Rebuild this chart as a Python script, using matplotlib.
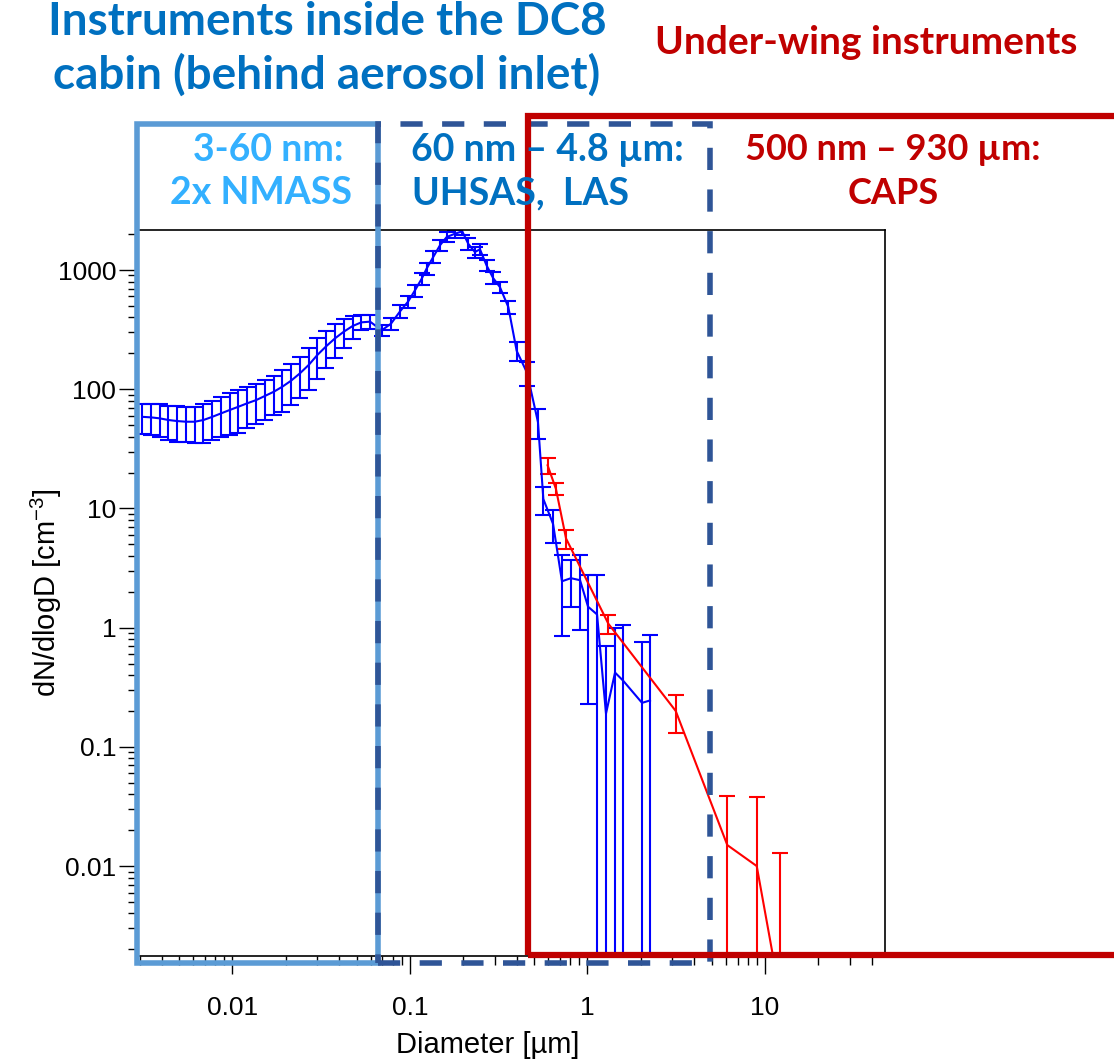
import matplotlib.pyplot as plt
from matplotlib.patches import Rectangle
from matplotlib.ticker import FixedLocator, LogLocator, NullFormatter, FixedFormatter

plt.rcParams.update({'font.family': ['Liberation Sans', 'DejaVu Sans'],
                     'mathtext.default': 'regular'})

# NMASS + UHSAS + LAS (blue), diameter in um
d_blue = [0.0031, 0.00347, 0.00389, 0.00436, 0.00488, 0.00547, 0.00613, 0.00687,
          0.0077, 0.00862, 0.00966, 0.0108, 0.0121, 0.0136, 0.0152, 0.0171, 0.0191,
          0.0214, 0.024, 0.0269, 0.0301, 0.0338, 0.0378, 0.0424, 0.0475, 0.0532, 0.0596,
          0.0693, 0.0782, 0.0879, 0.0978, 0.1067, 0.1164, 0.124, 0.1352, 0.1475, 0.161,
          0.1794, 0.197, 0.213, 0.232, 0.248, 0.270, 0.294, 0.321, 0.358, 0.399, 0.456,
          0.526, 0.564, 0.640, 0.718, 0.807, 0.908, 1.007, 1.132, 1.271, 1.429, 1.585,
          2.028, 2.249]
n_blue = [58.7, 58.1, 57.0, 55.2, 54.1, 53.4, 53.4, 55.2, 58.7, 62.7, 67.0, 71.3, 76.2,
          81.1, 87.7, 95.3, 105, 118, 136, 160, 194, 230, 267, 304, 339, 364, 369,
          312, 355, 450, 546, 676, 845, 1026, 1285, 1611, 1892, 2018, 2113, 1660, 1416,
          1493, 1094, 857, 720, 490, 210, 138, 53, 12.0, 7.4, 2.45, 2.6, 2.5, 1.5, 1.29,
          0.19, 0.42, 0.36, 0.234, 0.245]
e_blue = [16.5, 17, 17.5, 17.6, 17.7, 17.6, 18, 20, 21, 23, 26, 28, 29, 30, 32, 35, 40,
          44, 52, 62, 73, 80, 85, 84, 76, 52, 48,
          35, 42, 55, 65, 80, 95, 120, 150, 170, 180, 170, 150, 200, 150, 160, 120, 100,
          80, 63, 37, 31, 15, 3.2, 2.3, 1.6, 1.1, 1.55, 1.27, 1.5, 0.51, 0.58, 0.69,
          0.52, 0.62]

# CAPS (red)
d_red = [0.596, 0.664, 0.757, 1.31, 3.14, 6.13, 8.98, 12.2]
n_red = [23, 14.6, 5.6, 1.08, 0.20, 0.015, 0.010, 0.0008]
e_red = [3.5, 1.7, 1.0, 0.19, 0.07, 0.024, 0.028, 0.012]

xticks = [0.01, 0.1, 1, 10]
xticklabels = ['0.01', '0.1', '1', '10']
yticks = [0.01, 0.1, 1, 10, 100, 1000]
yticklabels = ['0.01', '0.1', '1', '10', '100', '1000']

W, H = 1114, 1061
fig = plt.figure(figsize=(W / 100, H / 100), dpi=100)
ax = fig.add_axes([137 / W, 1 - 956 / H, (885 - 137) / W, (956 - 230) / H])

ax.errorbar(d_blue, n_blue, yerr=e_blue, color='#0000ff', lw=1.5, capsize=6,
            elinewidth=1.5, capthick=1.5)
ax.errorbar(d_red, n_red, yerr=e_red, color='#ff0000', lw=1.5, capsize=6,
            elinewidth=1.5, capthick=1.5)

ax.set_xscale('log')
ax.set_yscale('log')
ax.set_xlim(0.0029, 47.4)
ax.set_ylim(0.00176, 2167)

ax.xaxis.set_major_locator(FixedLocator(xticks))
ax.xaxis.set_major_formatter(FixedFormatter(xticklabels))
ax.yaxis.set_major_locator(FixedLocator(yticks))
ax.yaxis.set_major_formatter(FixedFormatter(yticklabels))
ax.xaxis.set_minor_locator(LogLocator(base=10, subs=range(2, 10)))
ax.yaxis.set_minor_locator(LogLocator(base=10, subs=range(2, 10)))
ax.xaxis.set_minor_formatter(NullFormatter())
ax.yaxis.set_minor_formatter(NullFormatter())
ax.tick_params(which='major', direction='out', length=13, width=1, labelsize=19)
ax.tick_params(which='minor', direction='out', length=6.5, width=1)
ax.tick_params(axis='x', pad=16)
ax.tick_params(axis='y', pad=2)
for s in ax.spines.values():
    s.set_linewidth(1.2)

ax.set_xlabel('Diameter [µm]', fontsize=21)
ax.set_ylabel('dN/dlogD [cm$^{-3}$]', fontsize=21)
ax.xaxis.set_label_coords(0.469, -0.103)
ax.yaxis.set_label_coords(-0.097, 0.5)


def box(x0, y0, x1, y1, **kw):
    fig.add_artist(Rectangle((x0 / W, 1 - y1 / H), (x1 - x0) / W, (y1 - y0) / H,
                             transform=fig.transFigure, fill=False, clip_on=False, **kw))


box(137, 124, 378, 963, edgecolor='#5b9bd5', lw=4, zorder=5)
box(378, 124, 710, 963, edgecolor='#2f5597', lw=4, linestyle=(0, (4, 3.5)), zorder=6)
box(528, 116, 1130, 955, edgecolor='#c00000', lw=4.5, zorder=7)

tfont = dict(family=['Lato', 'DejaVu Sans'], weight='bold', ha='center', va='center',
             transform=fig.transFigure, zorder=10)


def label(x, y, s, c, size):
    fig.text(x / W, 1 - y / H, s, color=c, fontsize=size, **tfont)


label(327, 22, 'Instruments inside the DC8', '#0070c0', 33)
label(327, 75, 'cabin (behind aerosol inlet)', '#0070c0', 33)
label(866, 42, 'Under-wing instruments', '#c00000', 28)
label(268, 150, '3-60 nm:', '#33b0ff', 27)
label(261, 193, '2x NMASS', '#33b0ff', 27)
label(547, 150, '60 nm – 4.8 µm:', '#0070c0', 27)
label(521, 193, 'UHSAS,  LAS', '#0070c0', 27)
label(893, 150, '500 nm – 930 µm:', '#c00000', 26)
label(893, 193, 'CAPS', '#c00000', 26)

fig.savefig('out.png', dpi=100)
